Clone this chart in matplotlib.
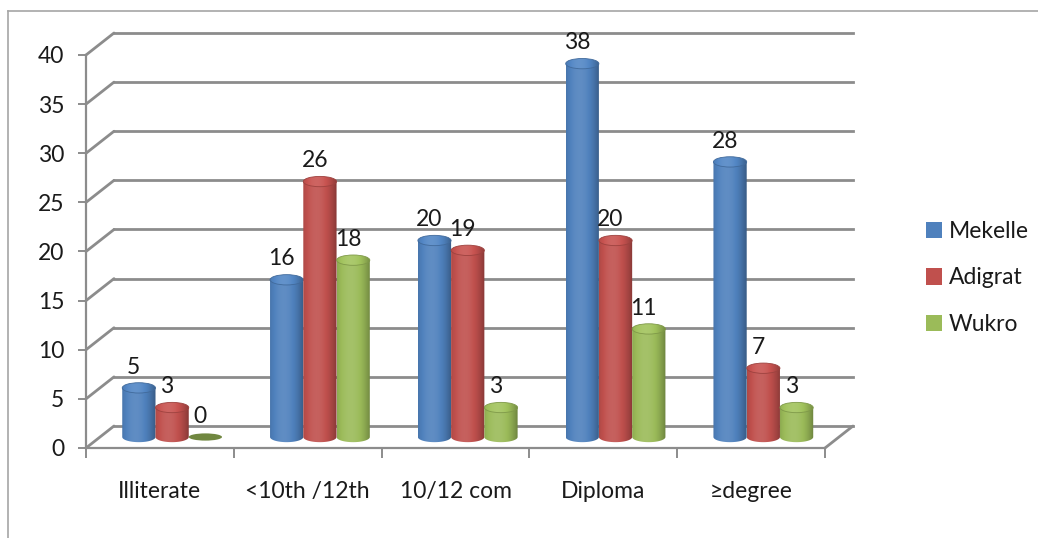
import numpy as np
import matplotlib
matplotlib.use("Agg")
import matplotlib.pyplot as plt
from matplotlib.transforms import ScaledTranslation
from matplotlib.patches import Polygon, Ellipse, Patch, ConnectionPatch
from matplotlib.lines import Line2D
from matplotlib.colors import to_rgb

# ---- data ----
categories = ["Illiterate", "<10th /12th", "10/12 com", "Diploma", "\u2265degree"]
series = ["Mekelle", "Adigrat", "Wukro"]
mekelle = [5, 16, 20, 38, 28]
adigrat = [3, 26, 19, 20, 7]
wukro = [0, 18, 3, 11, 3]
values = [mekelle, adigrat, wukro]
colors = ["#4F81BD", "#C0504D", "#9BBB59"]
yticks = list(range(0, 41, 5))

plt.rcParams["font.family"] = ["Lato", "DejaVu Sans"]

W, H, DPI = 1038, 538, 100
fig = plt.figure(figsize=(W / DPI, H / DPI), dpi=DPI)
fig.patch.set_facecolor("white")

# front plane of the 3-D box
ax = fig.add_axes([86 / W, 1 - 448 / H, (825 - 86) / W, (448 - 55) / H])
ax.set_xlim(0, len(categories))
ax.set_ylim(yticks[0], yticks[-1])
ax.patch.set_alpha(0)

GRID = "#8c8c8c"
TXT = "#1a1a1a"
FS = 16.5


def shifted(dx, dy):
    return ax.transData + ScaledTranslation(dx / DPI, dy / DPI, fig.dpi_scale_trans)


back = shifted(28, 22)   # back wall
mid = shifted(14, 11)    # plane of the cylinders

# back wall gridlines and side-wall diagonals
n = len(categories)
for v in yticks:
    ax.plot([0, n], [v, v], transform=back, color=GRID, lw=2, clip_on=False, zorder=1)
    cp = ConnectionPatch(xyA=(0, v), coordsA=ax.transData, xyB=(0, v), coordsB=back,
                         color=GRID, lw=2, zorder=1)
    ax.add_artist(cp)
cp = ConnectionPatch(xyA=(n, 0), coordsA=ax.transData, xyB=(n, 0), coordsB=back,
                     color=GRID, lw=2, zorder=1)
ax.add_artist(cp)

# front axes
for side in ["top", "right"]:
    ax.spines[side].set_visible(False)
for side in ["left", "bottom"]:
    ax.spines[side].set_color(GRID)
    ax.spines[side].set_linewidth(1.6)

ax.set_yticks(yticks)
ax.tick_params(axis="y", direction="out", length=5.5, width=1.4, color=GRID,
               labelsize=FS, labelcolor=TXT, pad=10)
ax.set_xticks(np.arange(n + 1))
ax.set_xticklabels([])
ax.tick_params(axis="x", which="major", direction="out", length=7, width=1.4, color=GRID)
ax.set_xticks(np.arange(n) + 0.5, minor=True)
ax.set_xticklabels(categories, minor=True)
ax.tick_params(axis="x", which="minor", length=0, labelsize=FS, labelcolor=TXT, pad=24)


def shade(base, s):
    f = 0.70 + 0.38 * (1 - ((s + 0.2) / 1.2) ** 2)
    rgb = np.array(to_rgb(base))
    out = np.where(f[:, None] <= 1, rgb[None, :] * f[:, None],
                   rgb[None, :] + (1 - rgb[None, :]) * (f[:, None] - 1) * 1.2)
    return np.clip(out, 0, 1)


bw = 0.225     # cylinder width in category units
eh = 1.05      # ellipse height in value units
s = np.linspace(-1, 1, 80)
t = np.linspace(np.pi, 2 * np.pi, 60)

for j, (vals, col) in enumerate(zip(values, colors)):
    grad = shade(col, s)[None, :, :]
    grad_top = np.clip(grad * 1.04, 0, 1)
    for i, v in enumerate(vals):
        cx = i + 0.5 + (j - 1) * bw - 0.012
        x0, x1 = cx - bw / 2, cx + bw / 2
        z = 3 + j
        if v > 0:
            pts = [(cx + bw / 2 * np.cos(a), eh / 2 * np.sin(a)) for a in t]
            pts += [(x1, v), (x0, v)]
            body = Polygon(pts, closed=True, transform=mid, facecolor="none",
                           edgecolor="none", zorder=z)
            ax.add_patch(body)
            im = ax.imshow(grad, extent=[x0, x1, -eh, v], transform=mid, aspect="auto",
                           interpolation="bilinear", zorder=z)
            im.set_clip_path(body)
            top = Ellipse((cx, v), bw, eh, transform=mid, facecolor="none",
                          edgecolor=np.array(to_rgb(col)) * 0.82, lw=0.6, zorder=z + 0.1)
            ax.add_patch(top)
            imt = ax.imshow(grad_top, extent=[x0, x1, v - eh / 2, v + eh / 2], transform=mid,
                            aspect="auto", interpolation="bilinear", zorder=z + 0.05)
            imt.set_clip_path(top)
        else:
            disc = Ellipse((cx, v), bw, eh * 0.7, transform=mid,
                           facecolor=np.array(to_rgb(col)) * 0.72, edgecolor="none", zorder=z)
            ax.add_patch(disc)
        ax.annotate(str(v), xy=(cx, v), xycoords=mid, xytext=(-3.6, 15),
                    textcoords="offset points", ha="center", va="center",
                    fontsize=FS, color=TXT, zorder=10, annotation_clip=False)

ax.set_xlim(0, n)
ax.set_ylim(yticks[0], yticks[-1])

# legend
handles = [Patch(facecolor=c, edgecolor="none") for c in colors]
fig.legend(handles, series, loc="center left", bbox_to_anchor=(905 / W, 1 - 278 / H),
           frameon=False, fontsize=FS, handlelength=0.7, handleheight=0.7,
           handletextpad=0.3, labelspacing=1.1, labelcolor=TXT)

# chart area border
fig.add_artist(Line2D([8 / W, 1.0], [1 - 11 / H, 1 - 11 / H], transform=fig.transFigure,
                      color="#a6a6a6", lw=1.2))
fig.add_artist(Line2D([8 / W, 8 / W], [0, 1 - 11 / H], transform=fig.transFigure,
                      color="#a6a6a6", lw=1.2))

fig.savefig("out.png", dpi=DPI, facecolor="white")
